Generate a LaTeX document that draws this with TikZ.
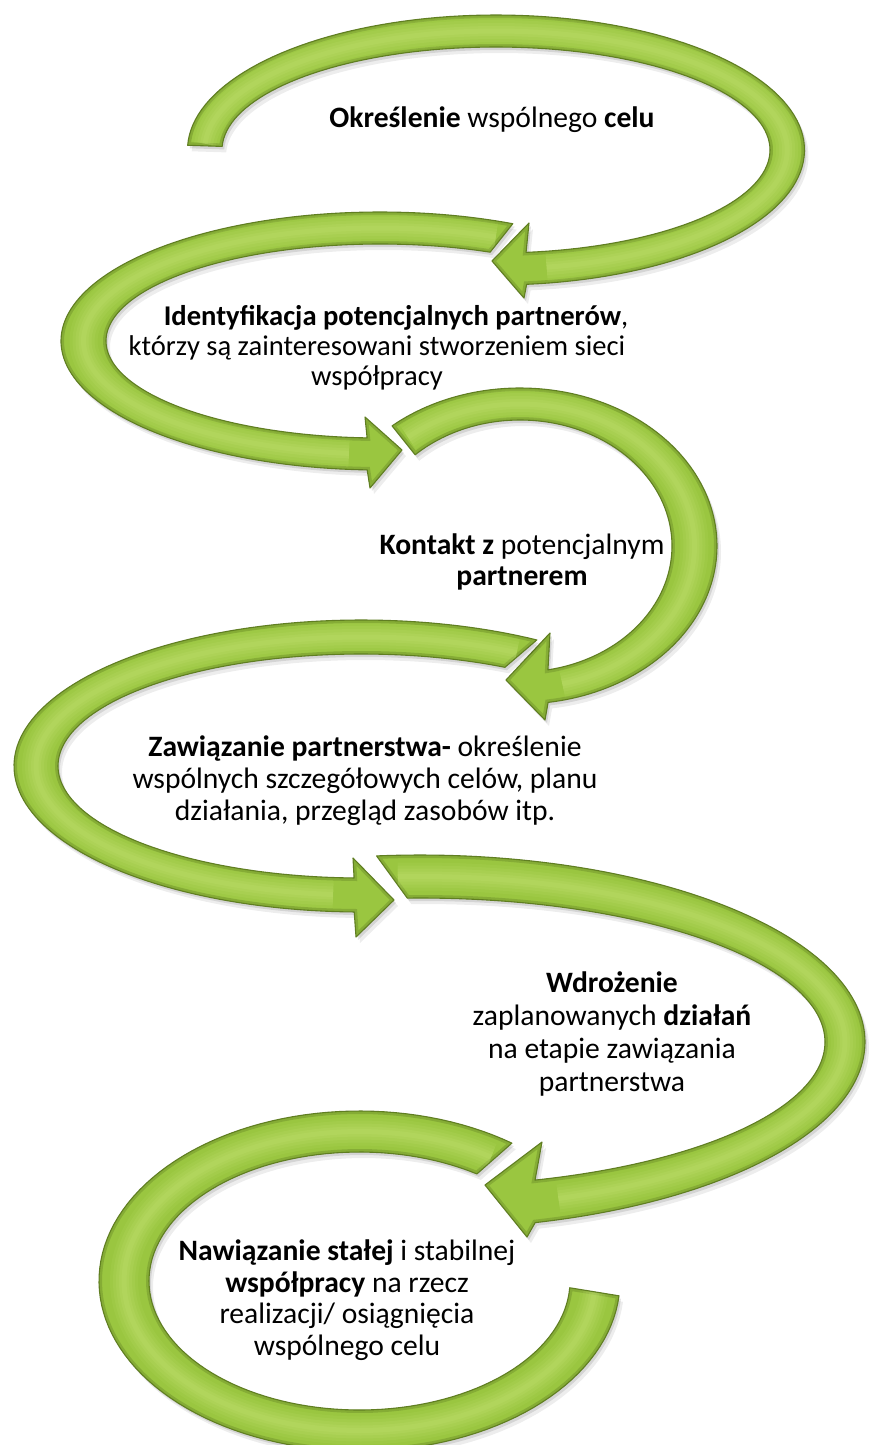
\documentclass[tikz,border=0pt]{standalone}
\usepackage{fontspec}
\setmainfont{Carlito}
\definecolor{armain}{RGB}{154,198,64}
\definecolor{arlight}{RGB}{200,230,120}
\definecolor{ardark}{RGB}{96,126,34}
\tikzset{
  lbl/.style={align=center, inner sep=0pt, text=black, anchor=north,
    font=\fontsize{29.6}{30.5}\selectfont},
}
\newcommand\greenarrow[2]{%
  \fill[black,opacity=0.07,shift={(4,6)}] #1;
  \fill[black,opacity=0.10,shift={(2,3)}] #1;
  \fill[armain] #1;
  \begin{scope}
    \clip #1;
    \draw[ardark,line width=6pt,opacity=0.35] #1;
    \foreach \w/\o in {28/0.10,22/0.12,16/0.14,10/0.16,5/0.16}
      {\draw[arlight,line width=\w pt,opacity=\o] #2;}
  \end{scope}
  \draw[ardark,line width=1.1pt,line join=round] #1;
}
\begin{document}
\begin{tikzpicture}[x=1pt,y=-1pt]
\fill[white] (0,0) rectangle (872,1445);
\clip (0,0) rectangle (872,1445);

% arrow 1
\greenarrow{plot[domain=182:444.3,samples=120,variable=\t] ({496+308.5*cos(\t)},{150+135*sin(\t)}) -- (524,298) -- (492,261) -- (529,223) -- plot[domain=443.7:182,samples=120,variable=\t] ({496+274*cos(\t)},{150+103*sin(\t)}) -- cycle}
{plot[domain=183:440,samples=120,variable=\t] ({496+291.25*cos(\t)},{150+119*sin(\t)})}

% arrow 2
\greenarrow{plot[domain=294.6:92.3,samples=120,variable=\t] ({380+319*cos(\t)},{341+129*sin(\t)}) -- (370,488) -- (402,450) -- (365,417) -- plot[domain=92.7:293.7,samples=120,variable=\t] ({380+274*cos(\t)},{341+97*sin(\t)}) -- cycle}
{plot[domain=293:96,samples=120,variable=\t] ({380+296.5*cos(\t)},{341+113*sin(\t)})}

% arrow 3
\greenarrow{plot[domain=229.5:441.8,samples=120,variable=\t] ({520+197*cos(\t)},{546+158*sin(\t)}) -- (545,720) -- (506,680) -- (550,633) -- plot[domain=439.4:226.4,samples=120,variable=\t] ({520+152*cos(\t)},{546+126*sin(\t)}) -- cycle}
{plot[domain=230:436,samples=120,variable=\t] ({520+174.5*cos(\t)},{546+142*sin(\t)})}

% arrow 4
\greenarrow{plot[domain=300.3:91.2,samples=120,variable=\t] ({361.5+347.5*cos(\t)},{766+146*sin(\t)}) -- (356,937) -- (394,900) -- (353,858) -- plot[domain=91.4:298.2,samples=120,variable=\t] ({361.5+303.5*cos(\t)},{766+112*sin(\t)}) -- cycle}
{plot[domain=298.5:95,samples=120,variable=\t] ({361.5+325.5*cos(\t)},{766+129*sin(\t)})}

% arrow 5
\greenarrow{plot[domain=264.4:435,samples=120,variable=\t] ({420+445*cos(\t)},{1042+187*sin(\t)}) -- (527,1237) -- (485,1185) -- (542,1142) -- plot[domain=433.5:268.2,samples=120,variable=\t] ({420+405*cos(\t)},{1042+144*sin(\t)}) -- cycle}
{plot[domain=267:431,samples=120,variable=\t] ({420+425*cos(\t)},{1042+165.5*sin(\t)})}

% arrow 6
\greenarrow{plot[domain=305.8:5,samples=120,variable=\t] ({359.5+260.5*cos(\t)},{1281+170*sin(\t)}) -- plot[domain=3:303.9,samples=120,variable=\t] ({359.5+210.5*cos(\t)},{1281+129*sin(\t)}) -- cycle}
{plot[domain=304:4,samples=120,variable=\t] ({359.5+235.5*cos(\t)},{1281+149.5*sin(\t)})}

% texts
\node[lbl] (t1) at (492,107) {\textbf{Określenie} wspólnego \textbf{celu}};
\node[lbl,font=\fontsize{28.6}{30}\selectfont] (t2) at (377,305) {\hspace*{38pt}\textbf{Identyfikacja potencjalnych partnerów},\\którzy są zainteresowani stworzeniem sieci\\współpracy};
\node[lbl] (t3) at (522,534) {\textbf{Kontakt z} potencjalnym\\\textbf{partnerem}};
\node[lbl,font=\fontsize{29.6}{32}\selectfont] (t4) at (365,736) {\textbf{Zawiązanie partnerstwa-} określenie\\wspólnych szczegółowych celów, planu\\działania, przegląd zasobów itp.};
\node[lbl,font=\fontsize{29.6}{33}\selectfont] (t5) at (612,971) {\textbf{Wdrożenie}\\zaplanowanych \textbf{działań}\\na etapie zawiązania\\partnerstwa};
\node[lbl,font=\fontsize{29.6}{31.5}\selectfont] (t6) at (347,1240) {\textbf{Nawiązanie stałej} i stabilnej\\\textbf{współpracy} na rzecz\\realizacji/ osiągnięcia\\wspólnego celu};
\end{tikzpicture}
\end{document}
